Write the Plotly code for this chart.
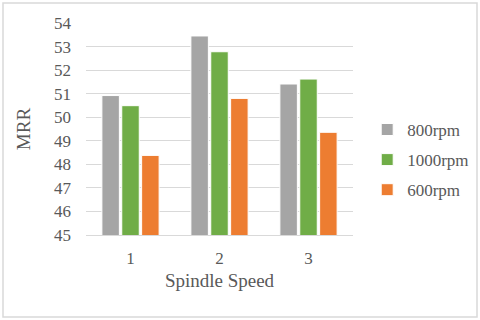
import plotly.graph_objects as go

categories = ["1", "2", "3"]
series_names = ["800rpm", "1000rpm", "600rpm"]
rpm800 = [50.92, 53.45, 51.41]
rpm1000 = [50.49, 52.78, 51.62]
rpm600 = [48.38, 50.80, 49.36]
colors = ["#A5A5A5", "#70AD47", "#ED7D31"]
TEXT = "#595959"
GRID = "#D9D9D9"
FONT = "Liberation Serif"

fig = go.Figure()
for i, (name, vals) in enumerate(zip(series_names, [rpm800, rpm1000, rpm600])):
    fig.add_trace(go.Bar(
        name=name, x=categories, y=vals, legendgroup=name,
        marker=dict(color=colors[i], line=dict(color="white", width=1)),
    ))

fig.update_layout(
    width=480, height=320,
    paper_bgcolor="white", plot_bgcolor="white",
    font=dict(family=FONT, color=TEXT, size=17),
    margin=dict(l=86, r=127, t=23, b=85, autoexpand=False),
    barmode="group", bargap=0.33, bargroupgap=0.12,
    showlegend=True,
    legend=dict(xref="container", x=0.765, y=0.354, xanchor="left", yanchor="middle",
                font=dict(size=17, color=TEXT), tracegroupgap=5,
                bgcolor="rgba(0,0,0,0)"),
    xaxis=dict(showgrid=False, showline=True, linecolor=GRID, linewidth=1,
               ticks="", tickfont=dict(size=17), ticklabelstandoff=8,
               title=dict(text="Spindle Speed", font=dict(size=19), standoff=6)),
    yaxis=dict(range=[45, 54], dtick=1, showgrid=True, gridcolor=GRID, gridwidth=1,
               zeroline=False, showline=False, ticks="", tickfont=dict(size=17),
               ticklabelstandoff=14,
               title=dict(text="MRR", font=dict(size=19), standoff=18)),
    shapes=[dict(type="rect", xref="paper", yref="paper",
                 x0=-83 / 267, x1=391 / 267, y0=-82 / 212, y1=1 + 20 / 212,
                 line=dict(color="#D9D9D9", width=1.5), fillcolor="rgba(0,0,0,0)", layer="below")],
)

fig.write_html("out.html", config=dict(displayModeBar=False),
               post_script="document.body.style.margin='0';")
